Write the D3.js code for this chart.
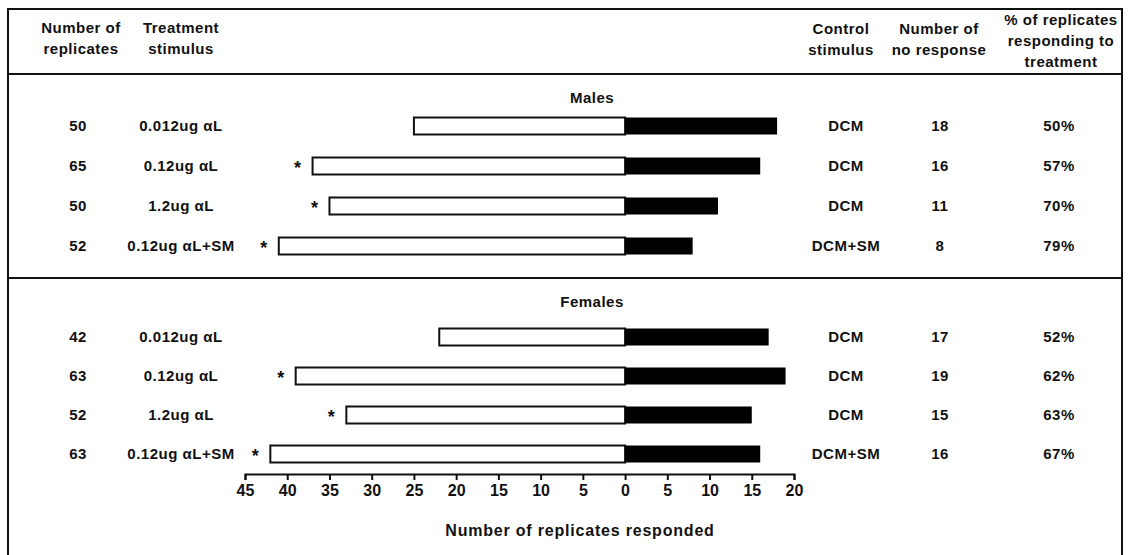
<!DOCTYPE html>
<html>
<head>
<meta charset="utf-8">
<script src="https://cdn.jsdelivr.net/npm/d3@7"></script>
<style>
  html, body { margin: 0; padding: 0; background: #fff; }
  svg { display: block; font-family: "Liberation Sans", Arial, sans-serif; font-weight: bold; }
</style>
</head>
<body>
<svg id="chart" width="1130" height="555"></svg>
<script>
// Rows shared by both panels
const treatments = ["0.012ug \u03b1L", "0.12ug \u03b1L", "1.2ug \u03b1L", "0.12ug \u03b1L+SM"];
const controls = ["DCM", "DCM", "DCM", "DCM+SM"];

// Males
const replicatesMales = [50, 65, 50, 52];
const treatmentMales = [25, 37, 35, 41];
const noResponseMales = [18, 16, 11, 8];
const percentMales = ["50%", "57%", "70%", "79%"];
const significantMales = [false, true, true, true];

// Females
const replicatesFemales = [42, 63, 52, 63];
const treatmentFemales = [22, 39, 33, 42];
const noResponseFemales = [17, 19, 15, 16];
const percentFemales = ["52%", "62%", "63%", "67%"];
const significantFemales = [false, true, true, true];

const tickValues = [-45, -40, -35, -30, -25, -20, -15, -10, -5, 0, 5, 10, 15, 20];
const axisTitle = "Number of replicates responded";

const panels = [
  { name: "Males", replicates: replicatesMales, treatment: treatmentMales, noResponse: noResponseMales,
    percent: percentMales, significant: significantMales, range: [126, 246], titleY: 98 },
  { name: "Females", replicates: replicatesFemales, treatment: treatmentFemales, noResponse: noResponseFemales,
    percent: percentFemales, significant: significantFemales, range: [337, 454], titleY: 302 }
];

const svg = d3.select("#chart");
const x = d3.scaleLinear().domain([-45, 20]).range([245, 794]);
const barH = 17;
const fs = 15;
const ls = "0.5px";

// Frame and separators
const frame = svg.append("g").attr("stroke", "#111").attr("stroke-width", 2).attr("fill", "none");
frame.append("rect").attr("x", 8).attr("y", 9).attr("width", 1114).attr("height", 560);
frame.append("line").attr("x1", 8).attr("x2", 1122).attr("y1", 74).attr("y2", 74);
frame.append("line").attr("x1", 8).attr("x2", 1122).attr("y1", 278).attr("y2", 278);

// Column headers
const headers = [
  { x: 81, lines: ["Number of", "replicates"], ys: [33, 54] },
  { x: 181, lines: ["Treatment", "stimulus"], ys: [33, 54] },
  { x: 841, lines: ["Control", "stimulus"], ys: [34, 55] },
  { x: 939, lines: ["Number of", "no response"], ys: [34, 55] },
  { x: 1061, lines: ["% of replicates", "responding to", "treatment"], ys: [25, 46, 67] }
];
headers.forEach(h => {
  h.lines.forEach((t, i) => {
    svg.append("text").attr("x", h.x).attr("y", h.ys[i])
      .attr("text-anchor", "middle").attr("font-size", fs).attr("letter-spacing", ls)
      .attr("fill", "#111").text(t);
  });
});

const columnX = { replicates: 78, treatment: 181, control: 846, noResponse: 940, percent: 1059 };

panels.forEach(p => {
  const y = d3.scalePoint().domain(d3.range(treatments.length)).range(p.range);
  const g = svg.append("g");

  g.append("text").attr("x", 592).attr("y", p.titleY).attr("dy", "0.35em")
    .attr("text-anchor", "middle").attr("font-size", fs).attr("letter-spacing", ls)
    .attr("fill", "#111").text(p.name);

  const rows = g.selectAll("g.row").data(d3.range(treatments.length)).join("g").attr("class", "row");

  // Treatment responses drawn to the left of zero
  rows.append("rect")
    .attr("x", i => x(-p.treatment[i]))
    .attr("y", i => y(i) - barH / 2)
    .attr("width", i => x(0) - x(-p.treatment[i]))
    .attr("height", barH)
    .attr("fill", "#fff").attr("stroke", "#111").attr("stroke-width", 2);

  // No-response counts drawn to the right of zero
  rows.append("rect")
    .attr("x", x(0))
    .attr("y", i => y(i) - barH / 2)
    .attr("width", i => x(p.noResponse[i]) - x(0))
    .attr("height", barH)
    .attr("fill", "#000");

  rows.filter(i => p.significant[i]).append("text")
    .attr("x", i => x(-p.treatment[i]) - 15)
    .attr("y", i => y(i) + 8)
    .attr("text-anchor", "middle").attr("font-size", 18).attr("fill", "#111").text("*");

  const cell = (key, fn) => rows.append("text")
    .attr("x", columnX[key]).attr("y", i => y(i)).attr("dy", "0.36em")
    .attr("text-anchor", "middle").attr("font-size", fs).attr("letter-spacing", ls)
    .attr("fill", "#111").text(fn);

  cell("replicates", i => p.replicates[i]);
  cell("treatment", i => treatments[i]);
  cell("control", i => controls[i]);
  cell("noResponse", i => p.noResponse[i]);
  cell("percent", i => p.percent[i]);
});

// Bottom axis, showing counts on both sides of zero as positive numbers
const axis = d3.axisBottom(x).tickValues(tickValues).tickSize(6).tickSizeOuter(6)
  .tickFormat(d => Math.abs(d));
const ax = svg.append("g").attr("transform", "translate(0,474)").call(axis);
ax.select(".domain").attr("stroke", "#111").attr("stroke-width", 2);
ax.selectAll(".tick line").attr("stroke", "#111").attr("stroke-width", 2);
ax.selectAll(".tick text").attr("font-size", 16).attr("font-family", "Liberation Sans, Arial, sans-serif")
  .attr("font-weight", "bold").attr("fill", "#111").attr("y", 11);

svg.append("text").attr("x", 580).attr("y", 530).attr("dy", "0.35em")
  .attr("text-anchor", "middle").attr("font-size", 16).attr("letter-spacing", "0.8px")
  .attr("fill", "#111").text(axisTitle);
</script>
</body>
</html>
